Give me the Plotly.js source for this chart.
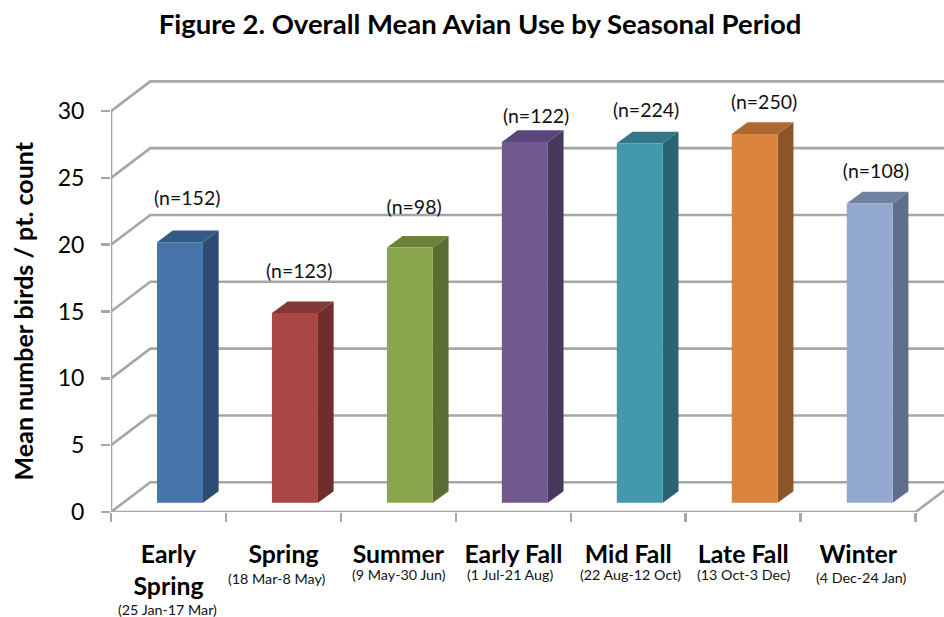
<!DOCTYPE html>
<html><head><meta charset="utf-8">
<script src="https://cdn.plot.ly/plotly-3.0.1.min.js"></script>
<style>html,body{margin:0;padding:0;background:#fff;overflow:hidden}</style>
</head><body><div id="chart" style="width:944px;height:617px"></div>
<script>
const categories = ["Early<br>Spring","Spring","Summer","Early Fall","Mid Fall","Late Fall","Winter"];
const dateRanges = ["(25 Jan-17 Mar)","(18 Mar-8 May)","(9 May-30 Jun)","(1 Jul-21 Aug)","(22 Aug-12 Oct)","(13 Oct-3 Dec)","(4 Dec-24 Jan)"];
const meanBirds = [19.5,14.2,19.1,27.0,26.9,27.6,22.4];
const sampleLabels = ["(n=152)","(n=123)","(n=98)","(n=122)","(n=224)","(n=250)","(n=108)"];
const yTicks = [0,5,10,15,20,25,30];
const frontColors = ["#4674AA","#AA4644","#8AA64D","#71588F","#4198AF","#DB843D","#93A9CF"];
const sideColors = ["#2E4C73","#6F2E2C","#5B6D33","#48395C","#2C6373","#8E5628","#5F6E89"];
const topColors = ["#365A87","#853735","#6B8139","#59467A","#337688","#AB6830","#6F819F"];

// Pixel scale of the axes
const pxX = 115, pxY = 13.39;
const wallDX = 39.3/pxX, wallDY = 29.8/pxY;   // back-wall offset in data units
const barDX = 15.7/pxX, barDY = 11.7/pxY;     // bar depth in data units
const barBase = 9.2/pxY, barOffset = -0.1, barWidth = 0.4;
const xMin = -0.5, xFrontEnd = 6.5, xMax = xMin + (944-110.7)/pxX, yMax = 33;
const gridColor = "#A6A6A6", gridWidth = 2.6;
const labelDX = [0.163,0.137,0.137,0.198,0.155,0.181,0.155];  // hand-placed n labels
const labelDY = [3.13,3.0,2.9,1.8,2.33,2.23,2.25];
const dateShiftY = [-97,-66,-62,-62,-62,-62,-65];
const dateShiftX = [-1,-6.7,0.8,-3,2,0.8,3];

const traces = [];
function line(xs, ys){
  traces.push({type:"scatter",mode:"lines",x:xs,y:ys,xaxis:"x",yaxis:"y",cliponaxis:false,
    line:{color:gridColor,width:gridWidth},hoverinfo:"skip",showlegend:false});
}
yTicks.forEach(v => line([xMin, xMin+wallDX, xFrontEnd+wallDX],[v, v+wallDY, v+wallDY]));
line([xMin,xMin],[0,yTicks[yTicks.length-1]]);
line([xMin,xFrontEnd,xFrontEnd+wallDX],[0,0,wallDY]);

meanBirds.forEach((v,i) => {
  const l = i+barOffset, r = l+barWidth, top = barBase+v;
  traces.push({type:"scatter",mode:"lines",fill:"toself",x:[r,r+barDX,r+barDX,r,r],
    y:[barBase,barBase+barDY,top+barDY,top,barBase],xaxis:"x",yaxis:"y",
    fillcolor:sideColors[i],line:{width:0,color:sideColors[i]},hoverinfo:"skip",showlegend:false});
  traces.push({type:"scatter",mode:"lines",fill:"toself",x:[l,l+barDX,r+barDX,r,l],
    y:[top,top+barDY,top+barDY,top,top],xaxis:"x",yaxis:"y",
    fillcolor:topColors[i],line:{width:0,color:topColors[i]},hoverinfo:"skip",showlegend:false});
});

traces.push({type:"scatter",mode:"text",xaxis:"x",yaxis:"y",cliponaxis:false,
  x:meanBirds.map((v,i)=>i+labelDX[i]),
  y:meanBirds.map((v,i)=>barBase+v+labelDY[i]),
  text:sampleLabels,textposition:"middle center",
  textfont:{family:"Lato, Carlito, sans-serif",size:19.5,color:"#111"},
  hoverinfo:"skip",showlegend:false});

traces.push({type:"bar",x:categories,y:meanBirds,base:barBase,offset:barOffset,width:barWidth,
  xaxis:"x2",yaxis:"y",marker:{color:frontColors,line:{width:0}},showlegend:false,
  hovertemplate:"%{x}: %{y}<extra></extra>"});

const annotations = dateRanges.map((d,i)=>({xref:"x",yref:"y",x:i,y:0,yshift:dateShiftY[i],xshift:dateShiftX[i],
  text:d,showarrow:false,xanchor:"center",yanchor:"middle",
  font:{family:"Lato, Carlito, sans-serif",size:14.3,color:"#111"}}));
annotations.push({xref:"paper",yref:"y",x:0,xshift:-88.5,y:15.05,textangle:-90,showarrow:false,
  xanchor:"center",yanchor:"middle",text:"<b>Mean number birds / pt. count</b>",
  font:{family:"Lato, Carlito, sans-serif",size:25,color:"#000"}});

const layout = {
  width:944,height:617,autosize:false,showlegend:false,
  paper_bgcolor:"#fff",plot_bgcolor:"rgba(0,0,0,0)",
  margin:{l:110.7,r:0,t:512.5-yMax*pxY,b:617-512.5,pad:0},
  title:{text:"<b>Figure 2. Overall Mean Avian Use by Seasonal Period</b>",
    xref:"container",yref:"container",x:0.5085,y:0.96,xanchor:"center",yanchor:"middle",
    font:{family:"Lato, Carlito, sans-serif",size:27.5,color:"#000"}},
  barmode:"overlay",
  xaxis:{type:"linear",range:[xMin,xMax],visible:false,fixedrange:true},
  xaxis2:{type:"category",overlaying:"x",anchor:"y",categoryorder:"array",categoryarray:categories,
    range:[xMin,xMax],tickson:"boundaries",ticks:"outside",ticklen:9,tickwidth:2.6,tickcolor:gridColor,
    showline:false,showgrid:false,zeroline:false,ticklabelstandoff:25,tickangle:0,
    tickfont:{family:"Lato, Carlito, sans-serif",size:24.8,color:"#000",weight:700}},
  yaxis:{range:[0,yMax],tickvals:yTicks,ticktext:yTicks.map(String),ticks:"outside",ticklen:9,tickwidth:2.6,
    tickcolor:gridColor,showline:false,showgrid:false,zeroline:false,ticklabelstandoff:12,
    tickfont:{family:"Lato, Carlito, sans-serif",size:23,color:"#000"}},
  annotations:annotations
};
Plotly.newPlot("chart",traces,layout,{displayModeBar:false,staticPlot:true});
</script></body></html>
